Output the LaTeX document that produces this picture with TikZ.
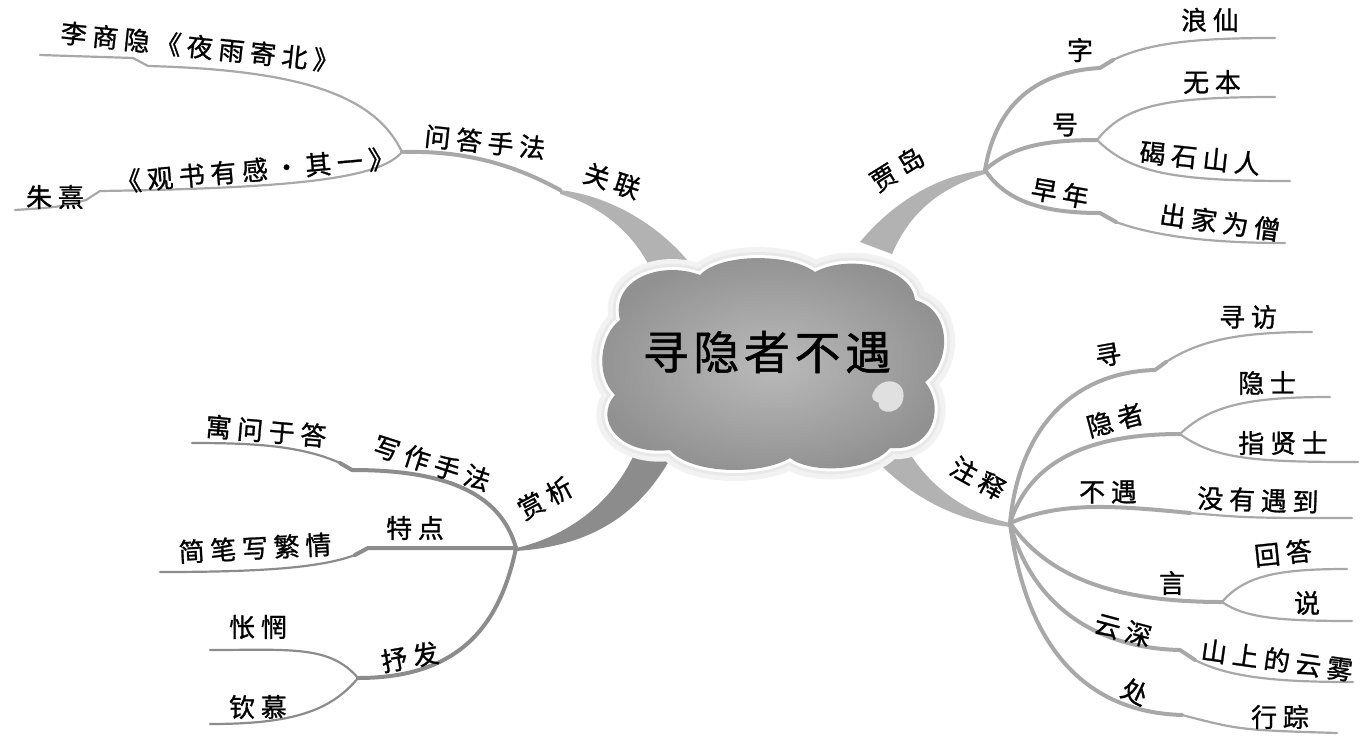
\documentclass[tikz,border=0pt]{standalone}
\usepackage{fontspec}
\newfontfamily\cjk[LetterSpace=22,FakeBold=1]{Noto Sans CJK SC}
\newfontfamily\cjkt[LetterSpace=10,FakeBold=1]{Noto Sans CJK SC}
\definecolor{lineA}{gray}{0.66}
\definecolor{lineB}{gray}{0.55}
\definecolor{wedgeA}{gray}{0.70}
\definecolor{wedgeB}{gray}{0.55}
\tikzset{
  lbl/.style={font=\cjk\fontsize{26}{28}\selectfont, inner sep=1pt},
  ttl/.style={font=\cjkt\fontsize{46}{50}\selectfont, inner sep=1pt},
  bA/.style={draw=lineA, line width=4pt, line cap=round, line join=round},
  lA/.style={draw=lineA, line width=2.2pt, line cap=round, line join=round},
  bB/.style={draw=lineB, line width=4pt, line cap=round, line join=round},
  lB/.style={draw=lineB, line width=2.2pt, line cap=round, line join=round},
}
\begin{document}
\begin{tikzpicture}[x=1pt,y=-1pt]
\useasboundingbox (0,0) rectangle (1362,737);
\fill[white] (0,0) rectangle (1362,737);

% ---------- hubs and points ----------
\coordinate (gl) at (560,190);
\coordinate (wd) at (402,152);
\coordinate (lk1) at (148,66);
\coordinate (lk0) at (133,58);
\coordinate (lE) at (40,55);
\coordinate (zk1) at (100,191);
\coordinate (zk0) at (86,200);
\coordinate (zE) at (15,210);

\coordinate (jd) at (985,170);
\coordinate (zi1) at (1100,68);
\coordinate (zi0) at (1113,60);
\coordinate (lxE) at (1275,38);
\coordinate (hh) at (1097,140);
\coordinate (wbE) at (1275,97);
\coordinate (jsE) at (1290,181);
\coordinate (zn1) at (1100,213);
\coordinate (zn0) at (1116,222);
\coordinate (cjE) at (1285,243);

\coordinate (zs) at (1010,523);
\coordinate (x1) at (1155,370);
\coordinate (x0) at (1166,362);
\coordinate (xfE) at (1312,332);
\coordinate (yz) at (1180,434);
\coordinate (ysE) at (1330,397);
\coordinate (zxsE) at (1358,462);
\coordinate (by) at (1190,513);
\coordinate (myE) at (1352,518);
\coordinate (yan) at (1222,602);
\coordinate (hdE) at (1347,569);
\coordinate (shE) at (1352,621);
\coordinate (ys1) at (1180,650);
\coordinate (ys0) at (1195,660);
\coordinate (ywE) at (1353,682);
\coordinate (cu) at (1182,715);
\coordinate (xzE) at (1337,733);

\coordinate (sx) at (516,548);
\coordinate (xz1) at (352,470);
\coordinate (xz0) at (340,463);
\coordinate (ywdE) at (192,443);
\coordinate (td1) at (368,548);
\coordinate (td0) at (355,555);
\coordinate (jbE) at (160,572);
\coordinate (sf) at (358,678);
\coordinate (cwE) at (210,650);
\coordinate (qmE) at (210,724);

% ---------- thick wedges ----------
\fill[wedgeA] (gl) .. controls (610,196) and (660,225) .. (692,266) -- (654,276)
   .. controls (635,232) and (600,206) .. (560,194) -- cycle;
\fill[wedgeA] (jd) .. controls (940,175) and (895,200) .. (860,242) -- (892,254)
   .. controls (910,212) and (940,188) .. (985,174) -- cycle;
\fill[wedgeA] (zs) .. controls (960,512) and (920,480) .. (898,432) -- (860,442)
   .. controls (900,492) and (950,520) .. (1010,527) -- cycle;
\fill[wedgeB] (sx) .. controls (570,536) and (615,500) .. (636,450) -- (674,452)
   .. controls (640,516) and (590,546) .. (516,551) -- cycle;

% ---------- connectors: top left ----------
\draw[bA] (wd) .. controls (470,150) and (520,168) .. (gl);
\draw[lA] (wd) .. controls (375,95) and (300,70) .. (lk1) -- (lk0) -- (lE);
\draw[lA] (wd) .. controls (380,178) and (300,188) .. (zk1) -- (zk0) .. controls (60,207) .. (zE);

% ---------- connectors: top right ----------
\draw[bA] (jd) .. controls (995,110) and (1030,72) .. (zi1) -- (zi0);
\draw[lA] (zi0) .. controls (1150,42) and (1200,38) .. (lxE);
\draw[bA] (jd) .. controls (1010,148) and (1040,140) .. (hh);
\draw[lA] (hh) .. controls (1125,105) and (1165,97) .. (wbE);
\draw[lA] (hh) .. controls (1130,172) and (1170,181) .. (jsE);
\draw[bA] (jd) .. controls (1005,200) and (1040,213) .. (zn1) -- (zn0);
\draw[lA] (zn0) .. controls (1160,238) and (1220,243) .. (cjE);

% ---------- connectors: bottom right ----------
\draw[bA] (zs) .. controls (1020,420) and (1080,372) .. (x1) -- (x0);
\draw[lA] (x0) .. controls (1200,340) and (1240,332) .. (xfE);
\draw[bA] (zs) .. controls (1030,460) and (1090,434) .. (yz);
\draw[lA] (yz) .. controls (1210,405) and (1250,397) .. (ysE);
\draw[lA] (yz) .. controls (1215,460) and (1260,462) .. (zxsE);
\draw[bA] (zs) .. controls (1060,502) and (1110,505) .. (by);
\draw[lA] (by) .. controls (1250,518) .. (myE);
\draw[bA] (zs) .. controls (1050,580) and (1120,602) .. (yan);
\draw[lA] (yan) .. controls (1245,575) and (1280,569) .. (hdE);
\draw[lA] (yan) .. controls (1245,618) and (1280,621) .. (shE);
\draw[bA] (zs) .. controls (1030,600) and (1090,648) .. (ys1) -- (ys0);
\draw[lA] (ys0) .. controls (1230,678) and (1280,682) .. (ywE);
\draw[bA] (zs) .. controls (1025,640) and (1080,712) .. (cu);
\draw[lA] (cu) .. controls (1240,730) .. (xzE);

% ---------- connectors: bottom left ----------
\draw[bB] (sx) .. controls (500,490) and (440,470) .. (xz1) -- (xz0);
\draw[lB] (xz0) .. controls (300,445) and (250,443) .. (ywdE);
\draw[bB] (sx) -- (td1) -- (td0);
\draw[lB] (td0) .. controls (320,568) and (260,572) .. (jbE);
\draw[bB] (sx) .. controls (500,625) and (460,678) .. (sf);
\draw[lB] (sf) .. controls (330,645) and (290,650) .. (cwE);
\draw[lB] (sf) .. controls (330,712) and (290,724) .. (qmE);

% ---------- cloud ----------
\def\cloudpath{(620,320) .. controls (610,280) and (660,260) .. (700,275)
  .. controls (720,253) and (790,253) .. (815,272)
  .. controls (850,253) and (912,268) .. (915,300)
  .. controls (952,310) and (952,362) .. (925,382)
  .. controls (947,410) and (930,452) .. (890,448)
  .. controls (870,472) and (810,474) .. (790,458)
  .. controls (760,476) and (690,474) .. (670,450)
  .. controls (620,456) and (593,420) .. (615,395)
  .. controls (595,375) and (600,335) .. (620,320) -- cycle}
\draw[gray!10, line width=22pt, line join=round] \cloudpath;
\draw[gray!18, line width=12pt, line join=round] \cloudpath;
\draw[white, line width=6pt, line join=round] \cloudpath;
\shade[inner color=black!27, outer color=black!43] \cloudpath;
\fill[black!12] (872,396) .. controls (878,374) and (908,378) .. (903,400)
   .. controls (898,418) and (872,414) .. (880,398) .. controls (884,392) and (890,394) .. (888,400)
   .. controls (880,405) and (872,402) .. (872,396) -- cycle;
\node[ttl] (title) at (767,352) {寻隐者不遇};

% ---------- labels ----------
\node[lbl, rotate=-6] (n1) at (200,47) {李商隐《夜雨寄北》};
\node[lbl, rotate=5] (n2) at (255,170) {《观书有感·其一》};
\node[lbl] (n3) at (55,197) {朱熹};
\node[lbl, rotate=-6] (n4) at (485,142) {问答手法};
\node[lbl, rotate=-18] (n5) at (612,181) {关联};

\node[lbl, rotate=32] (n6) at (897,169) {贾岛};
\node[lbl] (n7) at (1080,50) {字};
\node[lbl] (n8) at (1210,20) {浪仙};
\node[lbl] (n9) at (1065,125) {号};
\node[lbl] (n10) at (1212,82) {无本};
\node[lbl, rotate=-6] (n11) at (1200,158) {碣石山人};
\node[lbl, rotate=-10] (n12) at (1060,193) {早年};
\node[lbl, rotate=-8] (n13) at (1220,222) {出家为僧};

\node[lbl, rotate=-29] (n14) at (978,478) {注释};
\node[lbl, rotate=10] (n15) at (1108,355) {寻};
\node[lbl] (n16) at (1248,317) {寻访};
\node[lbl, rotate=15] (n17) at (1115,420) {隐者};
\node[lbl] (n18) at (1267,383) {隐士};
\node[lbl] (n19) at (1283,443) {指贤士};
\node[lbl] (n20) at (1108,492) {不遇};
\node[lbl, rotate=-2] (n21) at (1258,500) {没有遇到};
\node[lbl] (n22) at (1172,583) {言};
\node[lbl, rotate=6] (n23) at (1283,553) {回答};
\node[lbl] (n24) at (1307,603) {说};
\node[lbl, rotate=-15] (n25) at (1123,630) {云深};
\node[lbl, rotate=-8] (n26) at (1277,660) {山上的云雾};
\node[lbl, rotate=-25] (n27) at (1135,692) {处};
\node[lbl] (n28) at (1280,717) {行踪};

\node[lbl, rotate=28] (n29) at (545,498) {赏析};
\node[lbl, rotate=-18] (n30) at (432,463) {写作手法};
\node[lbl, rotate=-5] (n31) at (266,431) {寓问于答};
\node[lbl] (n32) at (415,528) {特点};
\node[lbl, rotate=3] (n33) at (255,548) {简笔写繁情};
\node[lbl, rotate=10] (n34) at (410,657) {抒发};
\node[lbl] (n35) at (258,627) {怅惘};
\node[lbl] (n36) at (258,707) {钦慕};
\end{tikzpicture}
\end{document}
